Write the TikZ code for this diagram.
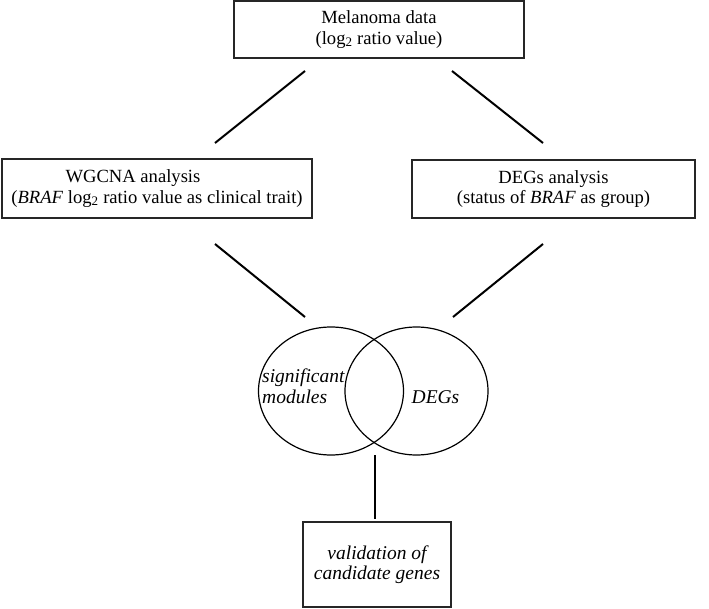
\documentclass[tikz,border=0pt]{standalone}
\usepackage{fontspec}
\setmainfont{Liberation Serif}
\usetikzlibrary{shapes.geometric}
\begin{document}
\begin{tikzpicture}[x=1pt,y=-1pt,
  box/.style={draw=black!85, line width=1.6pt, inner sep=0pt, align=center,
    font=\fontsize{18.6}{20.5}\selectfont},
  link/.style={line width=2pt},
  venn/.style={draw, ellipse, line width=1.2pt, inner sep=0pt},
  lbl/.style={inner sep=0pt, font=\fontsize{19.5}{21.5}\selectfont\itshape}]
\useasboundingbox (0,0) rectangle (709,609);
\node[box, minimum width=290pt, minimum height=57pt] (top) at (379,29.5)
  {Melanoma data\\(log\textsubscript{2} ratio value)};
\node[box, minimum width=310pt, minimum height=59pt] (wgcna) at (157,188.5)
  {WGCNA analysis\hspace*{48pt}\\(\textit{BRAF} log\textsubscript{2} ratio value as clinical trait)};
\node[box, minimum width=283pt, minimum height=58pt] (degs) at (553.5,189)
  {DEGs analysis\\(status of \textit{BRAF} as group)};
\node[box, minimum width=148pt, minimum height=85pt, font=\fontsize{19.5}{20.5}\selectfont\itshape] (valid) at (377,564.5)
  {validation of\\candidate genes};
\node[venn, minimum width=145pt, minimum height=128pt] (setA) at (331,391) {};
\node[venn, minimum width=143pt, minimum height=128pt] (setB) at (416.5,391) {};
\node[lbl, anchor=west, align=left] (labA) at (262,386) {significant\\modules};
\node[lbl] (labB) at (435.5,397) {DEGs};
\coordinate (l1a) at (305,71);  \coordinate (l1b) at (215,143);
\coordinate (l2a) at (452,71);  \coordinate (l2b) at (543,143);
\coordinate (l3a) at (215,244); \coordinate (l3b) at (305,317);
\coordinate (l4a) at (543,244); \coordinate (l4b) at (453,317);
\coordinate (l5a) at (375,455); \coordinate (l5b) at (375,519);
\draw[link] (l1a) -- (l1b);
\draw[link] (l2a) -- (l2b);
\draw[link] (l3a) -- (l3b);
\draw[link] (l4a) -- (l4b);
\draw[link] (l5a) -- (l5b);
\end{tikzpicture}
\end{document}
